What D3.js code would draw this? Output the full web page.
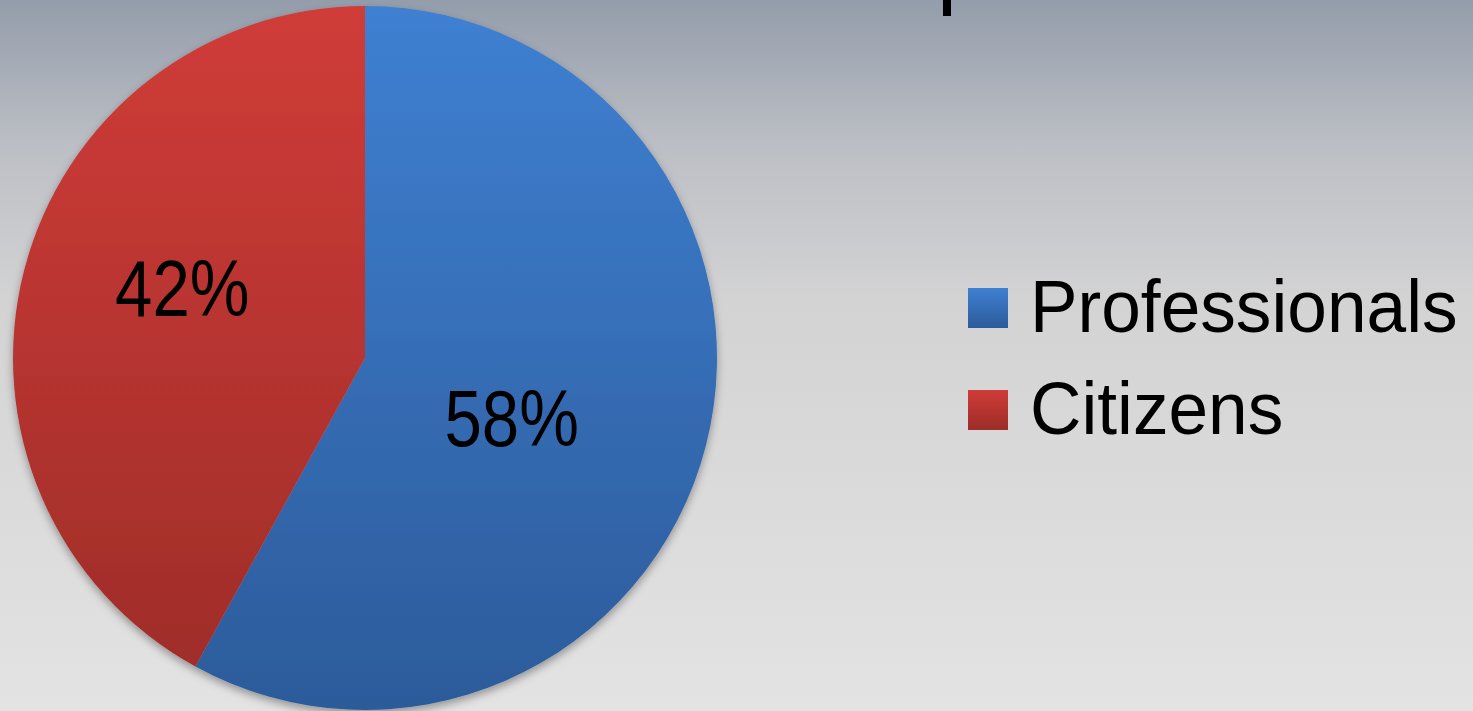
<!DOCTYPE html>
<html>
<head>
<meta charset="utf-8">
<script src="https://cdn.jsdelivr.net/npm/d3@7"></script>
<style>
  html, body { margin: 0; padding: 0; overflow: hidden; }
  svg { display: block; }
</style>
</head>
<body>
<svg width="1473" height="711"></svg>
<script>
// chart data
var categories = ["Professionals", "Citizens"];
var shares = [58, 42];
var topColors = ["#3f80d2", "#d03c38"];
var bottomColors = ["#2c5b9a", "#9c2c28"];

var svg = d3.select("svg"),
    width = +svg.attr("width"),
    height = +svg.attr("height");

var defs = svg.append("defs");

// slide background
var bg = defs.append("linearGradient").attr("id", "bg")
    .attr("x1", 0).attr("y1", 0).attr("x2", 0).attr("y2", 1);
bg.append("stop").attr("offset", "0%").attr("stop-color", "#949dab");
bg.append("stop").attr("offset", "20%").attr("stop-color", "#bbbec4");
bg.append("stop").attr("offset", "42%").attr("stop-color", "#d3d3d4");
bg.append("stop").attr("offset", "100%").attr("stop-color", "#e3e3e3");

svg.append("rect").attr("width", width).attr("height", height).attr("fill", "url(#bg)");

// bit of the cut off title glyph
svg.append("rect").attr("x", 943).attr("y", 0).attr("width", 8).attr("height", 16).attr("fill", "#000");

var cx = 365, cy = 358, radius = 352;

categories.forEach(function(c, i) {
    var g = defs.append("linearGradient").attr("id", "grad" + i)
        .attr("gradientUnits", "userSpaceOnUse")
        .attr("x1", 0).attr("y1", -radius).attr("x2", 0).attr("y2", radius);
    g.append("stop").attr("offset", "0%").attr("stop-color", topColors[i]);
    g.append("stop").attr("offset", "100%").attr("stop-color", bottomColors[i]);

    var lg = defs.append("linearGradient").attr("id", "lgrad" + i)
        .attr("x1", 0).attr("y1", 0).attr("x2", 0).attr("y2", 1);
    lg.append("stop").attr("offset", "0%").attr("stop-color", topColors[i]);
    lg.append("stop").attr("offset", "100%").attr("stop-color", bottomColors[i]);
});

var shadow = defs.append("filter").attr("id", "shadow")
    .attr("x", "-10%").attr("y", "-10%").attr("width", "120%").attr("height", "120%");
shadow.append("feDropShadow").attr("dx", 0).attr("dy", 4).attr("stdDeviation", 4)
    .attr("flood-color", "#000").attr("flood-opacity", 0.35);

var pie = d3.pie().sort(null).value(function(d) { return d; });
var arc = d3.arc().innerRadius(0).outerRadius(radius);

var arcs = pie(shares);

var g = svg.append("g").attr("transform", "translate(" + cx + "," + cy + ")");

g.append("g").attr("filter", "url(#shadow)")
    .selectAll("path")
    .data(arcs)
    .enter().append("path")
    .attr("d", arc)
    .attr("fill", function(d, i) { return "url(#grad" + i + ")"; });

// labels sit on an ellipse round the centre (nudged a little left/up)
g.selectAll(".lbl")
    .data(arcs)
    .enter().append("text")
    .attr("class", "lbl")
    .attr("transform", function(d) {
        var a = (d.startAngle + d.endAngle) / 2;
        var x = Math.sin(a) * radius * 0.483 - 18;
        var y = -Math.cos(a) * radius * 0.74 - 6;
        return "translate(" + x + "," + y + ") scale(0.84,1)";
    })
    .attr("text-anchor", "middle")
    .attr("dy", "0.36em")
    .attr("font-family", "'Liberation Sans', Arial, sans-serif")
    .attr("font-size", 80)
    .attr("fill", "#000")
    .text(function(d) { return d.data + "%"; });

// legend
var legend = svg.append("g").attr("transform", "translate(968,288)");
var item = legend.selectAll(".item")
    .data(categories)
    .enter().append("g")
    .attr("class", "item")
    .attr("transform", function(d, i) { return "translate(0," + (i * 102) + ")"; });

item.append("rect")
    .attr("width", 40).attr("height", 40)
    .attr("fill", function(d, i) { return "url(#lgrad" + i + ")"; });

item.append("text")
    .attr("transform", "translate(62,44) scale(0.95,1)")
    .attr("font-family", "'Liberation Sans', Arial, sans-serif")
    .attr("font-size", 75)
    .attr("fill", "#000")
    .text(function(d) { return d; });
</script>
</body>
</html>
